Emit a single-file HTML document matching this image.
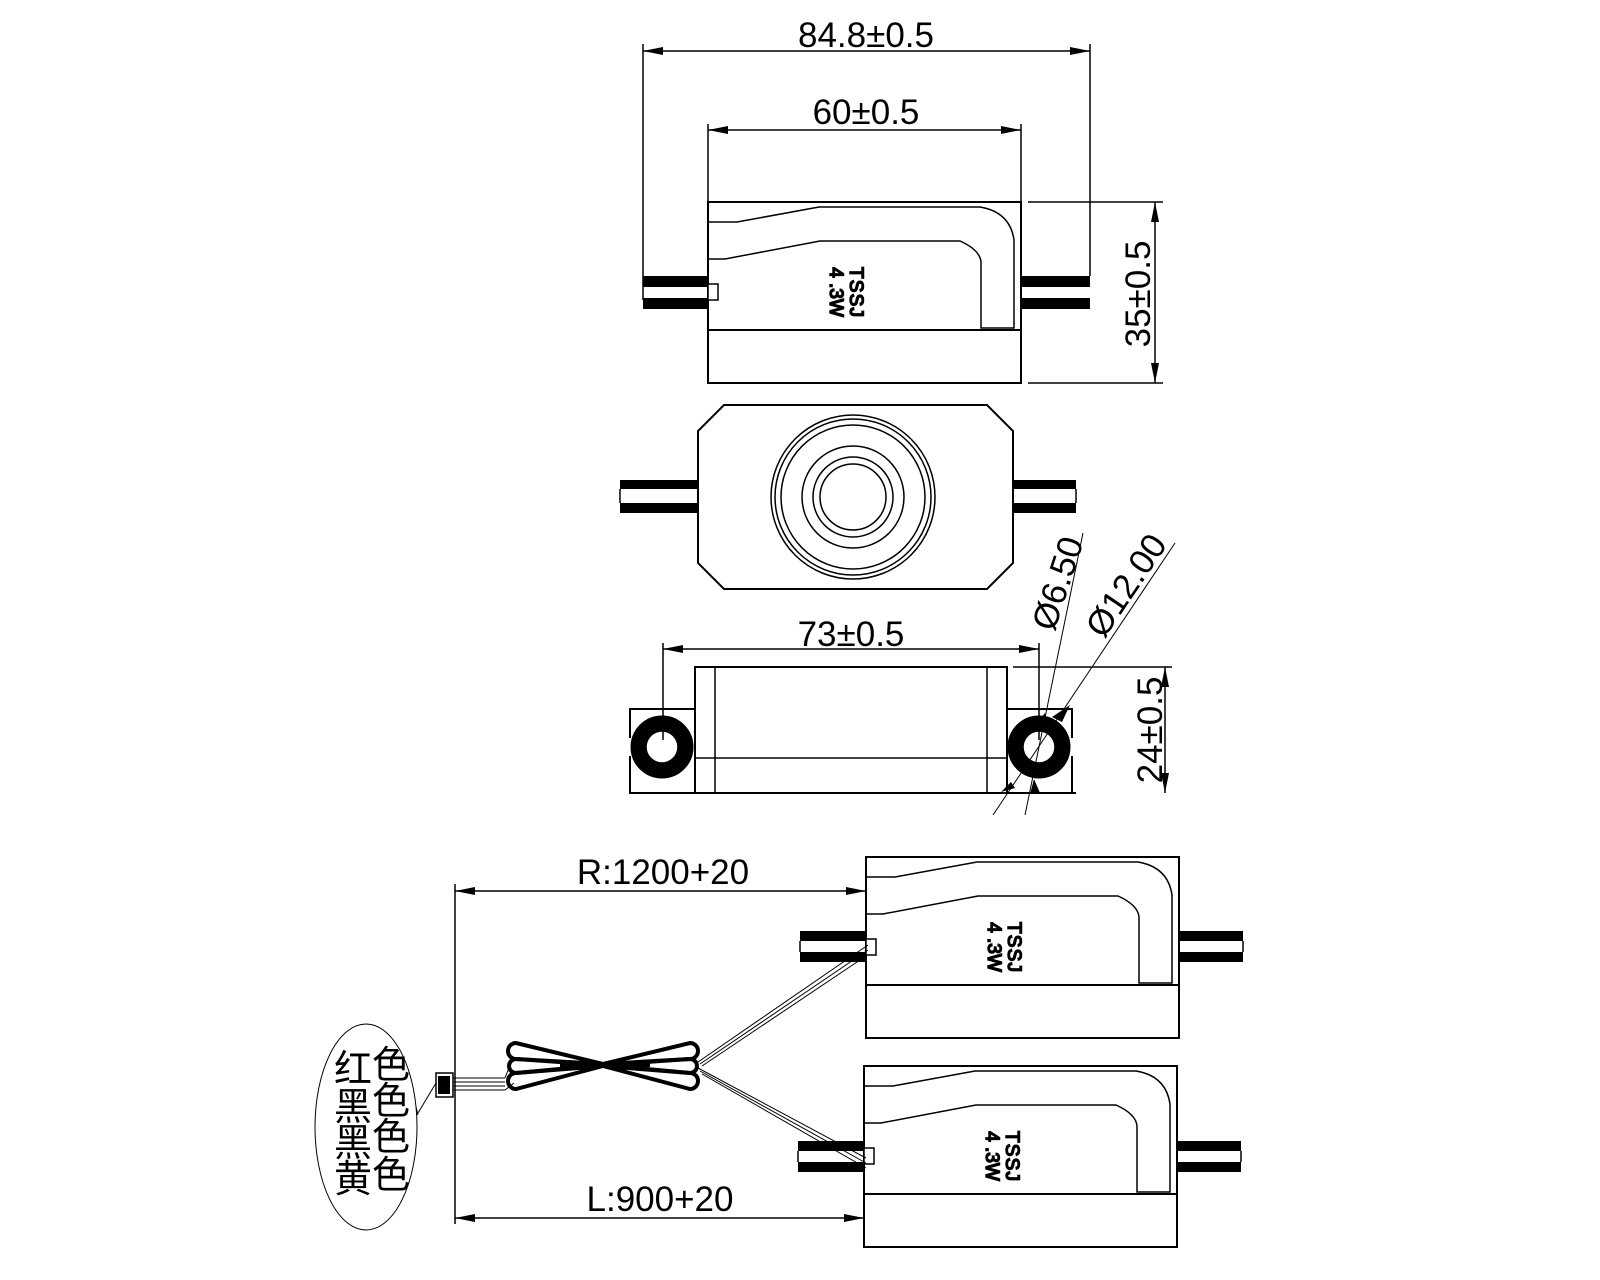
<!DOCTYPE html>
<html><head><meta charset="utf-8"><style>
html,body{margin:0;padding:0;background:#fff}
svg{display:block}
text{font-family:"Liberation Sans",sans-serif;fill:#000}
</style></head><body>
<svg width="1600" height="1280" viewBox="0 0 1600 1280" xmlns="http://www.w3.org/2000/svg">
<defs>
<marker id="a" viewBox="0 0 20 8" refX="20" refY="4" markerWidth="20" markerHeight="8" markerUnits="userSpaceOnUse" orient="auto-start-reverse"><path d="M0,0 L20,4 L0,8 z" fill="#000"/></marker>
<g id="mod">
<rect x="0" y="0" width="313" height="181" fill="none" stroke="#000" stroke-width="2"/>
<line x1="0" y1="128" x2="313" y2="128" stroke="#000" stroke-width="2"/>
<path d="M0,20 L29,20 L111,5 L272,5 Q302,10 306,38 L306,126 L273,126 L273,60 Q272,48 252,39 L112,39 L17,57 L0,57" fill="none" stroke="#000" stroke-width="1.5"/>
<rect x="0" y="82" width="10" height="16" fill="#fff" stroke="#000" stroke-width="1.5"/>
<text transform="translate(142,90) rotate(90)" font-size="19" text-anchor="middle" textLength="50" style="font-weight:normal">TSSJ</text>
<text transform="translate(122,90) rotate(90)" font-size="19" text-anchor="middle">4 .3W</text>
</g>
<g id="lobes" fill="none" stroke="#000">
<path d="M603,1064 L516,1043 A8,8 0 0 0 516,1059 Z"/>
<path d="M603,1065 L516,1059 A7,7 0 0 0 516,1073 Z"/>
<path d="M603,1066 L516,1073 A8,8 0 0 0 516,1089 Z"/>
<path d="M603,1064 L690,1043 A8,8 0 0 1 690,1059 Z"/>
<path d="M603,1065 L690,1059 A7,7 0 0 1 690,1073 Z"/>
<path d="M603,1066 L690,1073 A8,8 0 0 1 690,1089 Z"/>
</g>
</defs>
<g stroke="#000" fill="none" stroke-width="1.5">
<use href="#mod" x="708" y="202"/>
<rect x="643" y="276" width="65" height="11" fill="#000" stroke="none"/>
<rect x="643" y="298" width="65" height="11" fill="#000" stroke="none"/>
<rect x="1021" y="276" width="69" height="11" fill="#000" stroke="none"/>
<rect x="1021" y="298" width="69" height="11" fill="#000" stroke="none"/>
<line x1="643" y1="44" x2="643" y2="300"/>
<line x1="1090" y1="44" x2="1090" y2="276"/>
<line x1="708" y1="124" x2="708" y2="202"/>
<line x1="1021" y1="124" x2="1021" y2="270"/>
<line x1="643" y1="51" x2="1090" y2="51" marker-start="url(#a)" marker-end="url(#a)"/>
<line x1="708" y1="130" x2="1021" y2="130" marker-start="url(#a)" marker-end="url(#a)"/>
<line x1="1028" y1="202" x2="1163" y2="202"/>
<line x1="1028" y1="383" x2="1163" y2="383"/>
<line x1="1155" y1="202" x2="1155" y2="383" marker-start="url(#a)" marker-end="url(#a)"/>
<path d="M724,405 L987,405 L1013,431 L1013,563 L987,589 L724,589 L698,563 L698,431 Z" stroke-width="2"/>
<circle cx="853" cy="497" r="82"/><circle cx="853" cy="497" r="78"/><circle cx="853" cy="497" r="72"/>
<circle cx="853" cy="497" r="51"/><circle cx="853" cy="497" r="40"/><circle cx="853" cy="497" r="33"/>
<rect x="620" y="480" width="78" height="9" fill="#000" stroke="none"/>
<rect x="620" y="503" width="78" height="10" fill="#000" stroke="none"/>
<line x1="620" y1="489" x2="620" y2="503"/>
<rect x="1013" y="480" width="63" height="9" fill="#000" stroke="none"/>
<rect x="1013" y="503" width="63" height="10" fill="#000" stroke="none"/>
<line x1="1076" y1="489" x2="1076" y2="503"/>
<rect x="695" y="667" width="312" height="126" stroke-width="2"/>
<line x1="715" y1="667" x2="715" y2="793"/><line x1="987" y1="667" x2="987" y2="793"/>
<line x1="695" y1="758" x2="1007" y2="758"/>
<path d="M695,709 L630,709 L630,738 M630,756 L630,793 L1076,793 M1007,709 L1072,709 L1072,738 M1072,756 L1072,793" stroke-width="2"/>
<circle cx="662" cy="747" r="24" stroke-width="15"/><circle cx="662" cy="747" r="16"/>
<circle cx="1039" cy="747" r="24" stroke-width="15"/><circle cx="1039" cy="747" r="16"/>
<line x1="663" y1="643" x2="663" y2="740"/>
<line x1="1039" y1="643" x2="1039" y2="740"/>
<line x1="663" y1="649" x2="1039" y2="649" marker-start="url(#a)" marker-end="url(#a)"/>
<line x1="1013" y1="667" x2="1172" y2="667"/>
<line x1="1165" y1="667" x2="1165" y2="793" marker-start="url(#a)" marker-end="url(#a)"/>
<line x1="1083" y1="533" x2="1025" y2="815" stroke-width="1"/>
<line x1="1175" y1="543" x2="993" y2="815" stroke-width="1"/>
<path d="M1045,713 l-8,10 l10,3 z M1070,705 l-18,12 l10,5 z M1011,782 l-10,10 l14,-4 z M1034,779 l-4,15 l10,-1 z" fill="#000" stroke="none"/>
<use href="#mod" x="866" y="857"/>
<use href="#mod" x="864" y="1066"/>
<rect x="800" y="931" width="66" height="10" fill="#000" stroke="none"/>
<rect x="800" y="952" width="66" height="10" fill="#000" stroke="none"/>
<line x1="800" y1="941" x2="800" y2="952"/>
<rect x="1179" y="931" width="64" height="10" fill="#000" stroke="none"/>
<rect x="1179" y="952" width="64" height="10" fill="#000" stroke="none"/>
<line x1="1243" y1="941" x2="1243" y2="952"/>
<rect x="798" y="1141" width="66" height="10" fill="#000" stroke="none"/>
<rect x="798" y="1162" width="66" height="10" fill="#000" stroke="none"/>
<line x1="798" y1="1151" x2="798" y2="1162"/>
<rect x="1177" y="1141" width="64" height="10" fill="#000" stroke="none"/>
<rect x="1177" y="1162" width="64" height="10" fill="#000" stroke="none"/>
<line x1="1241" y1="1151" x2="1241" y2="1162"/>
<line x1="455" y1="884" x2="455" y2="1224"/>
<line x1="455" y1="891" x2="866" y2="891" marker-start="url(#a)" marker-end="url(#a)"/>
<line x1="455" y1="1218" x2="864" y2="1218" marker-start="url(#a)" marker-end="url(#a)"/>
<g stroke-width="1">
<path d="M698,1062 L868,945 M700,1064 L868,950 M702,1066 L866,956"/>
<path d="M698,1068 L866,1158 M700,1071 L866,1163 M702,1074 L866,1168"/>
<path d="M453,1078 L505,1078 M453,1082 L505,1082 M453,1086 L505,1086 M453,1090 L505,1090 M505,1078 L512,1060 M505,1090 L514,1083"/>
</g>
<use href="#lobes" stroke-width="4"/>
<use href="#lobes" stroke="#fff" stroke-width="1.5"/>
<line x1="560" y1="1065" x2="650" y2="1065" stroke-width="4"/>
<rect x="436" y="1073" width="17" height="24" fill="#fff" stroke-width="1.5"/>
<rect x="438" y="1076" width="12" height="18" fill="#000" stroke="none"/>
<line x1="436" y1="1083" x2="418" y2="1113" stroke-width="1"/>
<line x1="416" y1="1107" x2="418" y2="1115" stroke-width="1"/>
<ellipse cx="366" cy="1127" rx="51" ry="103" stroke-width="1"/>
</g>
<g font-size="35" text-anchor="middle">
<text x="866" y="47">84.8±0.5</text>
<text x="866" y="124">60±0.5</text>
<text transform="translate(1150,294) rotate(-90)">35±0.5</text>
<text x="851" y="646">73±0.5</text>
<text transform="translate(1162,730) rotate(-90)">24±0.5</text>
<text transform="translate(1069,587) rotate(-72)">Ø6.50</text>
<text transform="translate(1136,592) rotate(-56)">Ø12.00</text>
<text x="663" y="884">R:1200+20</text>
<text x="660" y="1211">L:900+20</text>
</g>
<g font-size="38" style="font-family:'Noto Serif CJK SC',serif">
<text x="334" y="1082">红</text><text x="372" y="1078">色</text>
<text x="334" y="1120">黑</text><text x="372" y="1114">色</text>
<text x="334" y="1156">黑</text><text x="372" y="1150">色</text>
<text x="334" y="1192">黄</text><text x="372" y="1188">色</text>
</g>
</svg>
</body></html>
